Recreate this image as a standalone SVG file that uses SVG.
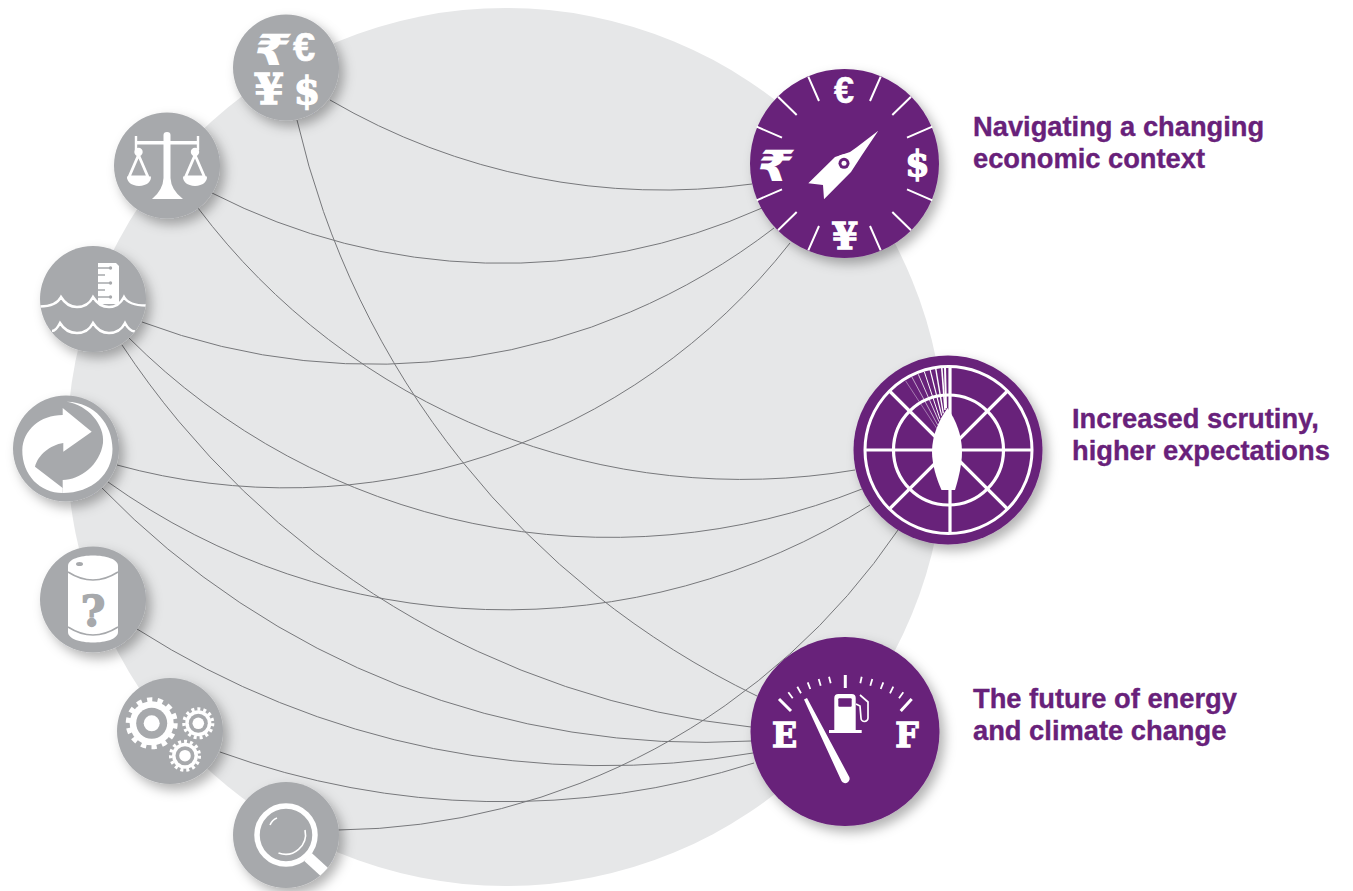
<svg xmlns="http://www.w3.org/2000/svg" width="1353" height="891" viewBox="0 0 1353 891">
<style>
.conn{fill:none;stroke:#77787b;stroke-width:1}
.g{fill:#a7a9ac}
.p{fill:#68217a}
.w{fill:#fff}
.ws{fill:none;stroke:#fff;stroke-linecap:butt}
.gs{fill:none;stroke:#a7a9ac}
.sym{fill:#fff;stroke:#fff;stroke-width:1.300;font-family:"DejaVu Serif",serif;font-weight:700;text-anchor:middle}
.eur{fill:#fff;stroke:#fff;stroke-width:.5;font-family:"Liberation Sans",sans-serif;font-weight:700;text-anchor:middle}
.rup{fill:#fff;font-family:"DejaVu Sans",sans-serif;font-weight:700;text-anchor:middle}
.t{fill:#68217a;stroke:#68217a;stroke-width:.35;font-family:"Liberation Sans",Arial,sans-serif;font-weight:700;font-size:27.300px}
</style>
<defs>
<filter id="sh" x="-30%" y="-30%" width="170%" height="170%"><feDropShadow dx="5" dy="6" stdDeviation="6" flood-color="#000" flood-opacity="0.3"/></filter>
<clipPath id="wc"><circle cx="93" cy="299" r="53"/></clipPath>
<clipPath id="mc"><circle cx="286" cy="835" r="53"/></clipPath>
</defs>
<rect width="1353" height="891" fill="#fff"/>
<circle id="backdrop" cx="506" cy="447" r="439" fill="#e6e7e8"/>
<g id="connectors">
<path class="conn" d="M330,100A660,660 0 0 0 752,184"/>
<path class="conn" d="M297,120A850,850 0 0 0 757,696"/>
<path class="conn" d="M212,193A636,636 0 0 0 762,208"/>
<path class="conn" d="M198,208A681,681 0 0 0 855,470"/>
<path class="conn" d="M142,322A656,656 0 0 0 774,228"/>
<path class="conn" d="M129,338A680,680 0 0 0 862,489"/>
<path class="conn" d="M122,345A862,862 0 0 0 751,727"/>
<path class="conn" d="M117,465A640,640 0 0 0 790,243"/>
<path class="conn" d="M108,482A684,684 0 0 0 870,505"/>
<path class="conn" d="M102,488A837,837 0 0 0 751,741"/>
<path class="conn" d="M137,629A870,870 0 0 0 753,753"/>
<path class="conn" d="M220,752A832,832 0 0 0 754,763"/>
<path class="conn" d="M338,830A685,685 0 0 0 898,530"/>
</g>
<g id="node-currencies">
<circle class="g" cx="286" cy="67.500" r="53" filter="url(#sh)"/>
<text class="rup" font-size="43" transform="translate(268,65) skewX(-14) scale(1.200,1)">₹</text>
<text class="eur" x="304" y="61" font-size="40">€</text>
<text class="sym" x="269" y="104" font-size="43">¥</text>
<text class="sym" x="307" y="104" font-size="38">$</text>
</g>
<g id="node-scales">
<circle class="g" cx="167" cy="165.500" r="53" filter="url(#sh)"/>
<path class="w" d="M163.500,135Q163.500,132 167,132Q170.500,132 170.500,135L170.500,178Q171,190 183,199L152,199Q163,190 163.500,178Z"/>
<path class="ws" stroke-width="3.500" d="M135,142.700H199"/>
<path class="ws" stroke-width="2.400" d="M136,136V150M198,136V150"/>
<circle class="w" cx="138.500" cy="152" r="4.200"/><circle class="w" cx="195" cy="152" r="4.200"/>
<path class="ws" stroke-width="2.800" d="M138.500,155L129,177H148ZM195,155L185.500,177H204.500Z"/>
<path class="w" d="M127,176.500H151Q151,185 139,186Q127,185 127,176.500ZM183,176.500H207Q207,185 195,186Q183,185 183,176.500Z"/>
</g>
<g id="node-water">
<circle class="g" cx="93" cy="299" r="53" filter="url(#sh)"/>
<path class="w" d="M98,263H116L119,266V304H98Z"/>
<path class="gs" stroke-width="1.300" d="M98,268H110M98,275H105M98,283H110M98,290H105M98,297H110"/>
<circle class="g" cx="110.500" cy="268" r="1.700"/><circle class="g" cx="110.500" cy="283" r="1.700"/><circle class="g" cx="110.500" cy="297" r="1.700"/>
<g clip-path="url(#wc)">
<path class="ws" stroke-width="2.500" d="M38,306.500Q56,307 61,297Q67,307 77,307Q88,307 93,297Q99,307 109,307Q119,307 124,297Q129,306 148,305.500"/>
<path class="ws" stroke-width="2.500" d="M52,331Q56,331 60,323Q66,333 77,333Q88,333 93,323Q99,333 109,333Q120,333 125,323Q129,331 135,331.500"/>
</g>
</g>
<g id="node-recycle">
<circle class="g" cx="66" cy="448.500" r="53" filter="url(#sh)"/>
<path class="w" d="M22.300,450C23,430 40,415 62.700,415L62.700,408L91.700,431.700L63.300,451.700L63.300,443C50,445 38,455 35,466.700L62.700,488L62.700,493C40,493 22,475 22.300,450Z"/>
<path class="w" d="M66.700,401.700C95,402 112.500,425 112.500,449C112.500,474 92,493 62.700,493L62.700,480C80,480 100,465 103,443C105,425 88,405 66.700,401.700Z"/>
</g>
<g id="node-barrel">
<circle class="g" cx="93" cy="599.500" r="53" filter="url(#sh)"/>
<path class="w" d="M68,566C68,552 118,552 118,566L118,632C118,646 68,646 68,632Z"/>
<ellipse class="g" cx="79.500" cy="564" rx="3.500" ry="2"/>
<path class="gs" stroke-width="1.500" d="M68,572Q93,588 118,572M68,627Q93,643 118,627"/>
<text x="93" y="626" font-size="42" text-anchor="middle" font-weight="700" font-family="'DejaVu Serif',serif" fill="#a7a9ac" stroke="#a7a9ac" stroke-width="1.500">?</text>
</g>
<g id="node-gears">
<circle class="g" cx="170" cy="731" r="53" filter="url(#sh)"/>
<circle class="w" cx="151.700" cy="723.300" r="22"/>
<circle class="ws" cx="151.700" cy="723.300" r="23.500" stroke-width="5" stroke-dasharray="5.270 5.270"/>
<circle class="g" cx="151.700" cy="723.300" r="15.500"/><circle class="w" cx="151.700" cy="723.300" r="8"/>
<circle class="w" cx="198.300" cy="723.300" r="13"/>
<circle class="ws" cx="198.300" cy="723.300" r="14.300" stroke-width="3.500" stroke-dasharray="3 3"/>
<circle class="g" cx="198.300" cy="723.300" r="9.500"/><circle class="w" cx="198.300" cy="723.300" r="5.800"/>
<circle class="w" cx="185" cy="755.700" r="13"/>
<circle class="ws" cx="185" cy="755.700" r="14.300" stroke-width="3.500" stroke-dasharray="3 3"/>
<circle class="g" cx="185" cy="755.700" r="9.500"/><circle class="w" cx="185" cy="755.700" r="5.800"/>
</g>
<g id="node-search">
<circle class="g" cx="286" cy="835" r="53" filter="url(#sh)"/>
<circle class="ws" cx="286" cy="835" r="29" stroke-width="5.500"/>
<path class="ws" stroke-width="1.600" d="M270,825Q272,820 277,818M278.500,853A20,20 0 0 0 305,830"/>
<g clip-path="url(#mc)"><path class="ws" stroke-width="11" d="M308,857L332,879"/></g>
</g>
<g id="node-economic">
<circle class="p" cx="844.500" cy="163.500" r="94.500" filter="url(#sh)"/>
<path class="ws" stroke-width="2" d="M808.300,76.700L819,101M778,96.700L796.700,115M756.700,126.700L782,137.700M880.700,76.700L870,101M911,96.700L892.300,115M932.300,126.700L907,137.700M808.300,250.300L819,226M778,230.300L796.700,212M756.700,200.300L782,189.300M880.700,250.300L870,226M911,230.300L892.300,212M932.300,200.300L907,189.300"/>
<text class="eur" x="844" y="103" font-size="36">€</text>
<text class="sym" x="917.500" y="176" font-size="35">$</text>
<text class="sym" x="845" y="249" font-size="38">¥</text>
<text class="rup" font-size="43" transform="translate(771,181) skewX(-14) scale(1.200,1)">₹</text>
<path class="w" d="M878.300,130.700L862,155L851,172L824,199.300L823,185L808.300,183.300L835,157L850,152L856.700,147.300Z"/>
<circle class="w" cx="844" cy="163.300" r="9"/>
<circle class="p" cx="844" cy="163.300" r="5.500"/>
<circle class="w" cx="844" cy="163.300" r="2.500"/>
</g>
<g id="node-scrutiny">
<circle class="p" cx="948" cy="450" r="94.500" filter="url(#sh)"/>
<circle class="ws" cx="948.500" cy="450" r="83.500" stroke-width="3"/>
<circle class="ws" cx="948.500" cy="450" r="55" stroke-width="3.200"/>
<path class="ws" stroke-width="3.200" d="M865,450H1031M950,367V533M889.500,391L1007.500,509M1007.500,391L889.500,509"/>
<path class="ws" d="M905.700,381L936.700,428.300" stroke-width=".4"/>
<path class="ws" d="M911.700,376.700L937.700,425" stroke-width=".6"/>
<path class="ws" d="M918.300,374.300L939,421.700" stroke-width=".8"/>
<path class="ws" d="M924.300,371.700L940,419" stroke-width="1"/>
<path class="ws" d="M930,369.300L941.700,415.700" stroke-width="1.200"/>
<path class="ws" d="M935.700,368.300L943.300,413.300" stroke-width="1.400"/>
<path class="ws" d="M941.700,367L945,410" stroke-width="1.600"/>
<path class="ws" d="M945,366.700L946,408.300" stroke-width="2"/>
<path class="w" d="M947.500,408C956,420 962,435 962,452C962,465 958,480 955,490L941.500,490C937,480 932,465 932,452C932,435 939,420 947.500,408Z"/>
</g>
<g id="node-energy">
<circle class="p" cx="845" cy="731.500" r="94.500" filter="url(#sh)"/>
<path class="ws" stroke-width="3" d="M779,699L791,711M911.700,699L900.700,711M845.300,675V688"/>
<path class="ws" stroke-width="1.800" d="M788.300,692.300L792.700,698.300M797.300,686.700L801,693.300M807.700,682.300L810.300,689M818.700,679L820.700,685.700M829,676.700L830.700,683.300M861.700,676.700L860.300,683.300M872.300,679L870.300,685.700M883.300,682.300L880.700,689M893.300,686.700L890,693.300M903.300,692.300L899,698.300"/>
<path class="w" d="M804,699.500L807,698L849,776.500A4,4 0 0 1 841.500,781Z"/>
<path class="w" d="M834.300,698Q834.300,694 838.300,694H851.700Q855.700,694 855.700,698V730H834.300ZM829,730H861.700V733H829Z"/>
<rect class="p" x="838.300" y="698.300" width="13.400" height="8.400" rx="1"/>
<path class="ws" stroke-width="1.700" d="M860,695L868,702V718A3.500,3.500 0 0 1 861,718L860,706L856,704"/>
<text class="sym" x="784.500" y="747" font-size="33">E</text>
<text class="sym" x="907" y="747" font-size="33">F</text>
</g>
<g id="labels">
<text class="t" x="973" y="136">Navigating a changing</text>
<text class="t" x="973" y="168">economic context</text>
<text class="t" x="1072" y="428">Increased scrutiny,</text>
<text class="t" x="1072" y="460">higher expectations</text>
<text class="t" x="973" y="708">The future of energy</text>
<text class="t" x="973" y="740">and climate change</text>
</g>
</svg>
